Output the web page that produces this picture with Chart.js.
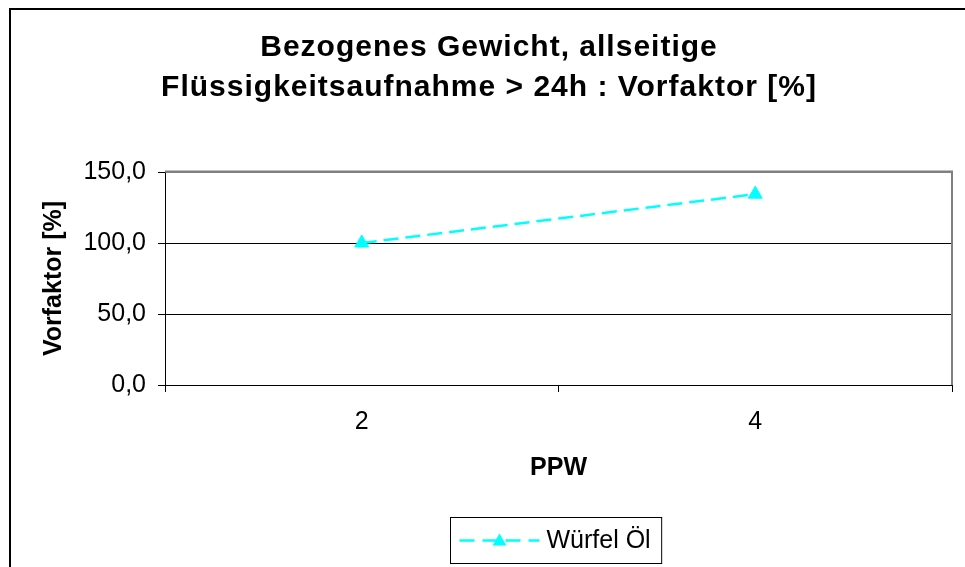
<!DOCTYPE html>
<html>
<head>
<meta charset="utf-8">
<script src="https://cdn.jsdelivr.net/npm/chart.js@4/dist/chart.umd.min.js"></script>
<style>
  html, body { margin: 0; padding: 0; background: #ffffff; }
  #wrap { width: 965px; height: 567px; position: relative; overflow: hidden; }
  canvas { display: block; }
</style>
</head>
<body>
<div id="wrap"><canvas id="c" width="965" height="567"></canvas></div>
<script>
// ---- data ----
const categories = ['2', '4'];
const seriesName = 'Würfel Öl';
const seriesValues = [100.0, 134.4];
const yTicks = [0, 50, 100, 150];
const titleLines = ['Bezogenes Gewicht, allseitige', 'Flüssigkeitsaufnahme > 24h : Vorfaktor [%]'];
const xTitle = 'PPW';
const yTitle = 'Vorfaktor [%]';

// ---- styles ----
const FONT = "'Liberation Sans', Arial, sans-serif";
const LINE_COLOR = '#00FFFF';
const DASH = [15, 7];

Chart.defaults.font.family = FONT;
Chart.defaults.color = '#000000';

function fmt(v) { return v.toFixed(1).replace('.', ','); }

function triangle(ctx, x, y, r) {
  let rad = 0;
  ctx.beginPath();
  ctx.moveTo(x + Math.sin(rad) * r, y - Math.cos(rad) * r);
  rad += 2 * Math.PI / 3;
  ctx.lineTo(x + Math.sin(rad) * r, y - Math.cos(rad) * r);
  rad += 2 * Math.PI / 3;
  ctx.lineTo(x + Math.sin(rad) * r, y - Math.cos(rad) * r);
  ctx.closePath();
}

const framePlugin = {
  id: 'frame',
  beforeDraw(chart) {
    const ctx = chart.ctx;
    // letter spacing (and slight offset) for the title only
    const tb = chart.titleBlock;
    if (tb && !tb._spaced) {
      const orig = tb.draw.bind(tb);
      tb.draw = function () {
        const c = chart.ctx;
        c.save();
        c.translate(13, 0);
        if ('letterSpacing' in c) c.letterSpacing = '1px';
        orig();
        c.restore();
        if ('letterSpacing' in c) c.letterSpacing = '0px';
      };
      tb._spaced = true;
    }
    ctx.save();
    ctx.fillStyle = '#ffffff';
    ctx.fillRect(0, 0, chart.width, chart.height);
    ctx.restore();
  },
  afterDatasetsDraw(chart) {
    const ctx = chart.ctx;
    const a = chart.chartArea;
    ctx.save();
    // plot area border (top and right), grey
    ctx.strokeStyle = '#808080';
    ctx.lineWidth = 2;
    ctx.beginPath();
    ctx.moveTo(a.left, a.top - 0.5);
    ctx.lineTo(a.right, a.top - 0.5);
    ctx.lineTo(a.right, a.bottom);
    ctx.stroke();
    ctx.restore();
  },
  afterDraw(chart) {
    const ctx = chart.ctx;
    const a = chart.chartArea;
    ctx.save();
    // outer chart frame
    ctx.strokeStyle = '#000000';
    ctx.lineWidth = 2;
    ctx.strokeRect(10, 9, chart.width + 20, chart.height + 20);

    // legend
    const ds = chart.data.datasets[0];
    ctx.font = '25px ' + FONT;
    const tw = ctx.measureText(ds.label).width;
    const padL = 9, sample = 80, gap = 7, padR = 11;
    const bw = padL + sample + gap + tw + padR;
    const bh = 46;
    const cx = (a.left + a.right) / 2;
    const bx = Math.round(cx - bw / 2) - 2.5;
    const by = 517.5;
    ctx.strokeStyle = '#000000';
    ctx.lineWidth = 1;
    ctx.strokeRect(bx, by, bw, bh);
    const ly = by + bh / 2;
    ctx.strokeStyle = ds.borderColor;
    ctx.lineWidth = ds.borderWidth;
    ctx.setLineDash([15, 8]);
    ctx.beginPath();
    ctx.moveTo(bx + padL, ly);
    ctx.lineTo(bx + padL + sample, ly);
    ctx.stroke();
    ctx.setLineDash([]);
    ctx.fillStyle = ds.pointBackgroundColor;
    triangle(ctx, bx + padL + sample / 2, ly + 1, ds.pointRadius);
    ctx.fill();
    ctx.fillStyle = '#000000';
    ctx.textBaseline = 'middle';
    ctx.textAlign = 'left';
    ctx.fillText(ds.label, bx + padL + sample + gap, ly + 1);
    ctx.restore();
  }
};

new Chart(document.getElementById('c'), {
  type: 'line',
  data: {
    labels: categories,
    datasets: [{
      label: seriesName,
      data: seriesValues,
      borderColor: LINE_COLOR,
      backgroundColor: LINE_COLOR,
      borderWidth: 2.5,
      borderDash: DASH,
      fill: false,
      tension: 0,
      pointStyle: 'triangle',
      pointRadius: 8,
      pointHoverRadius: 8,
      pointBackgroundColor: LINE_COLOR,
      pointBorderColor: LINE_COLOR,
      pointBorderWidth: 1
    }]
  },
  options: {
    responsive: false,
    animation: false,
    devicePixelRatio: 1,
    events: [],
    layout: { padding: { left: 0, right: 13, top: 0, bottom: 84 } },
    plugins: {
      legend: { display: false },
      tooltip: { enabled: false },
      title: {
        display: true,
        text: titleLines,
        color: '#000000',
        font: { family: FONT, size: 30, weight: 'bold', lineHeight: '40px' },
        padding: { top: 28, bottom: 64 }
      }
    },
    scales: {
      x: {
        type: 'category',
        offset: true,
        grid: {
          offset: true,
          drawOnChartArea: false,
          drawTicks: true,
          tickLength: 7,
          color: '#000000',
          lineWidth: 1
        },
        border: { display: true, color: '#000000', width: 1 },
        ticks: { font: { size: 25 }, color: '#000000', padding: 15, maxRotation: 0 },
        title: {
          display: true,
          text: xTitle,
          color: '#000000',
          font: { size: 25, weight: 'bold' },
          padding: { top: 0, bottom: 0 }
        },
        afterFit(scale) { scale.height = 98; }
      },
      y: {
        type: 'linear',
        min: yTicks[0],
        max: yTicks[yTicks.length - 1],
        afterBuildTicks(scale) { scale.ticks = yTicks.map(v => ({ value: v })); },
        grid: {
          color: (c) => (c.tick && c.tick.value === yTicks[yTicks.length - 1]) ? '#808080' : '#000000',
          tickColor: '#000000',
          tickLength: 7,
          lineWidth: 1
        },
        border: { display: true, color: '#000000', width: 1 },
        ticks: {
          font: { size: 25 },
          color: '#000000',
          padding: 12,
          callback: (v) => fmt(v)
        },
        title: {
          display: true,
          text: yTitle,
          color: '#000000',
          font: { size: 25, weight: 'bold' },
          padding: { top: 39, bottom: 0 }
        },
        afterFit(scale) { scale.width = 165; }
      }
    }
  },
  plugins: [framePlugin]
});
</script>
</body>
</html>
